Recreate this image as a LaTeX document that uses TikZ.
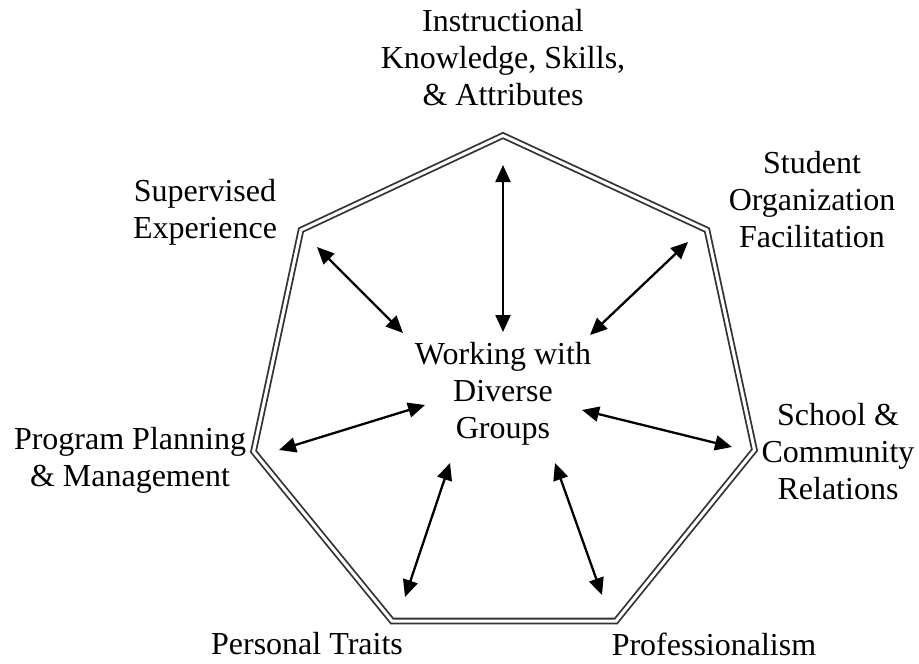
\documentclass[tikz,border=0pt]{standalone}
\usepackage{fontspec}
\setmainfont{Liberation Serif}
\usetikzlibrary{arrows.meta}
\begin{document}
\begin{tikzpicture}[x=1pt,y=-1pt,
  label/.style={align=center,inner sep=0pt,font=\fontsize{32}{37}\selectfont},
  frame/.style={draw=black!80,line width=1.8pt,double=white,double distance=3pt,line join=miter},
  link/.style={line width=2.3pt,{Triangle[length=17pt,width=15pt]}-{Triangle[length=17pt,width=15pt]}}]
\path[use as bounding box] (0,0) rectangle (919,664);

% heptagonal frame
\draw[frame] (503,135.5) -- (707,230) -- (754.5,450) -- (616,621) -- (392,621)
  -- (253.5,451.5) -- (301,230) -- cycle;

% labels
\node[label] (hub) at (503,394) {Working with\\Diverse\\Groups};
\node[label] (instr) at (503,58) {Instructional\\Knowledge, Skills,\\\& Attributes};
\node[label] (stud) at (812,200) {Student\\Organization\\Facilitation};
\node[label] (superv) at (205,212) {Supervised\\Experience};
\node[label] (prog) at (130,460) {Program Planning\\\& Management};
\node[label] (school) at (838,452) {School \&\\Community\\Relations};
\node[label] (pers) at (307,644) {Personal Traits};
\node[label] (prof) at (714,644) {Professionalism};

% arrow end points
\coordinate (tA) at (503,165);   \coordinate (tB) at (503,332);
\coordinate (ulA) at (317,247);  \coordinate (ulB) at (403,333);
\coordinate (urA) at (688,242);  \coordinate (urB) at (590,335);
\coordinate (rA) at (732,447);   \coordinate (rB) at (582,410);
\coordinate (lA) at (279,450);   \coordinate (lB) at (425,405);
\coordinate (blA) at (405,597);  \coordinate (blB) at (450,463);
\coordinate (brA) at (602,595);  \coordinate (brB) at (555,463);

\draw[link] (tA) -- (tB);
\draw[link] (ulA) -- (ulB);
\draw[link] (urA) -- (urB);
\draw[link] (rA) -- (rB);
\draw[link] (lA) -- (lB);
\draw[link] (blA) -- (blB);
\draw[link] (brA) -- (brB);
\end{tikzpicture}
\end{document}
